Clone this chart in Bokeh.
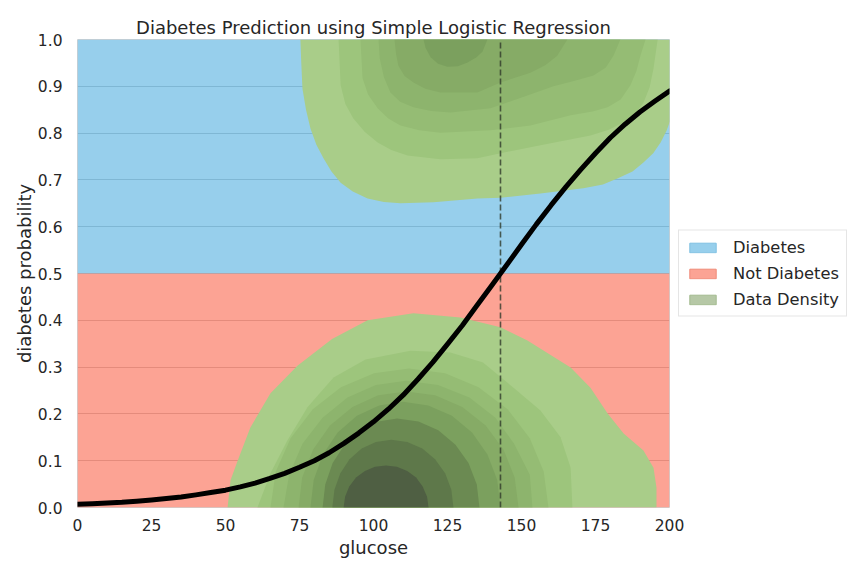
from bokeh.plotting import figure
from bokeh.models import Range1d, Legend, LegendItem, FixedTicker, CustomJSTickFormatter
from bokeh.embed import file_html
from bokeh.resources import INLINE

# logistic curve
glucose = [0, 5, 10, 15, 20, 25, 30, 35, 40, 45, 50, 55, 60, 65, 70, 75, 80, 85, 90, 95, 100,
           105, 110, 115, 120, 125, 130, 135, 140, 145, 150, 155, 160, 165, 170, 175, 180,
           185, 190, 195, 200]
prob = [0.007, 0.008, 0.0095, 0.011, 0.0134, 0.016, 0.019, 0.0225, 0.027, 0.032, 0.037,
        0.044, 0.052, 0.062, 0.073, 0.086, 0.100, 0.117, 0.137, 0.159, 0.183,
        0.210, 0.240, 0.274, 0.310, 0.349, 0.389, 0.432, 0.475, 0.518, 0.562,
        0.605, 0.646, 0.685, 0.722, 0.757, 0.790, 0.819, 0.845, 0.868, 0.890]

cutoff_glucose = 142.9

# class bands (diabetes above threshold, not diabetes below)
band_left = [0, 0]
band_right = [200, 200]
band_bottom = [0.5, 0.0]
band_top = [1.0, 0.5]

# density contours, upper cluster (diabetes), outer -> inner
kde_upper_x = [
    [75.3, 75.6, 76.0, 77.2, 78.7, 80.7, 83.1, 85.8, 88.9, 93.0, 98.0, 103.5, 109.1, 120.3, 135.1, 142.9,
     156.4, 170.9, 177.5, 182.4, 187.5, 191.2, 194.5, 197.0, 199.0, 200.5, 204, 204],
    [88.2, 88.9, 90.5, 93.2, 97.0, 101.4, 106.0, 111.5, 122.6, 135.1, 142.9, 156.4, 173.3, 179.5,
     184.5, 188.5, 191.2, 193.3, 194.6, 196.0],
    [95.6, 96.3, 98.2, 101.4, 105.0, 109.1, 115.5, 122.6, 139.5, 153.0, 166.6, 174.0, 179.1, 183.5,
     186.8, 188.8, 190.2, 191.9],
    [101.7, 102.1, 103.5, 105.7, 109.0, 113.5, 119.5, 126.0, 139.5, 151.0, 160.8, 168.0, 174.3,
     178.5, 181.1, 183.4],
    [107.1, 107.6, 108.4, 110.5, 113.5, 117.5, 122.6, 135.1, 142.9, 153.0, 158.0, 162.0, 165.5],
    [116.9, 117.6, 119.3, 121.8, 124.9, 128.5, 131.8, 134.8, 136.8, 138.5],
]
kde_upper_y = [
    [1.0, 0.95, 0.895, 0.850, 0.810, 0.775, 0.746, 0.718, 0.694, 0.675, 0.660, 0.653, 0.650, 0.652,
     0.660, 0.662, 0.671, 0.682, 0.690, 0.703, 0.718, 0.737, 0.757, 0.780, 0.805, 0.831, 0.85, 1.0],
    [1.0, 0.902, 0.862, 0.831, 0.803, 0.780, 0.764, 0.752, 0.744, 0.746, 0.757, 0.774, 0.795, 0.807,
     0.823, 0.842, 0.865, 0.898, 0.938, 1.0],
    [1.0, 0.917, 0.882, 0.853, 0.831, 0.816, 0.806, 0.801, 0.806, 0.816, 0.838, 0.846, 0.855, 0.872,
     0.902, 0.932, 0.966, 1.0],
    [1.0, 0.960, 0.920, 0.887, 0.867, 0.855, 0.847, 0.844, 0.853, 0.878, 0.900, 0.912, 0.923, 0.940,
     0.966, 1.0],
    [1.0, 0.970, 0.944, 0.922, 0.908, 0.895, 0.887, 0.887, 0.908, 0.929, 0.945, 0.965, 1.0],
    [1.0, 0.982, 0.962, 0.948, 0.942, 0.943, 0.951, 0.962, 0.974, 1.0],
]

# density contours, lower cluster (not diabetes), outer -> inner
kde_lower_x = [
    [50.7, 51.7, 54.1, 58.4, 65.2, 74.3, 86.0, 98.0, 113.5, 129.4, 142.9, 152.0, 166.6, 173.3, 179.1, 184.5, 191.2, 194.6, 195.6, 195.6],
    [60.8, 65.2, 70.9, 77.7, 86.5, 97.3, 112.5, 126.0, 137.0, 147.3, 156.4, 163.2, 166.6, 167.2],
    [65.2, 67.0, 72.0, 79.5, 89.0, 100.2, 112.0, 124.2, 135.5, 145.3, 152.8, 157.5, 159.1],
    [69.6, 71.5, 76.0, 82.8, 91.2, 100.8, 111.0, 121.8, 132.4, 141.2, 147.5, 152.8, 153.7],
    [74.7, 75.9, 79.6, 85.3, 92.9, 101.6, 111.0, 120.8, 130.0, 137.9, 143.9, 147.7, 149.0],
    [78.7, 79.8, 82.9, 87.9, 94.4, 101.9, 110.0, 118.5, 126.5, 133.3, 138.5, 141.8, 142.9],
    [82.8, 83.7, 86.2, 90.2, 95.4, 101.5, 108.0, 115.2, 121.9, 127.7, 132.1, 134.9, 135.8],
    [86.1, 86.8, 88.8, 91.9, 96.0, 100.8, 106.0, 111.4, 116.5, 120.8, 124.2, 126.3, 127.0],
    [89.9, 90.4, 91.8, 94.1, 97.1, 100.5, 104.2, 107.9, 111.4, 114.4, 116.6, 118.1, 118.6],
]
kde_lower_y = [
    [0.0, 0.058, 0.100, 0.171, 0.244, 0.303, 0.360, 0.400, 0.415, 0.406, 0.385, 0.357, 0.299, 0.256, 0.201, 0.158, 0.122, 0.085, 0.043, 0.0],
    [0.0, 0.073, 0.143, 0.214, 0.278, 0.316, 0.335, 0.331, 0.310, 0.256, 0.207, 0.150, 0.085, 0.0],
    [0.0, 0.077, 0.148, 0.210, 0.257, 0.287, 0.297, 0.287, 0.257, 0.210, 0.148, 0.077, 0.0],
    [0.0, 0.070, 0.136, 0.192, 0.235, 0.262, 0.271, 0.262, 0.235, 0.192, 0.136, 0.070, 0.0],
    [0.0, 0.064, 0.124, 0.175, 0.215, 0.240, 0.248, 0.240, 0.215, 0.175, 0.124, 0.064, 0.0],
    [0.0, 0.059, 0.113, 0.160, 0.196, 0.218, 0.226, 0.218, 0.196, 0.160, 0.113, 0.059, 0.0],
    [0.0, 0.049, 0.095, 0.134, 0.165, 0.184, 0.190, 0.184, 0.165, 0.134, 0.095, 0.049, 0.0],
    [0.0, 0.038, 0.073, 0.103, 0.126, 0.140, 0.145, 0.140, 0.126, 0.103, 0.073, 0.038, 0.0],
    [0.0, 0.023, 0.045, 0.064, 0.078, 0.087, 0.090, 0.087, 0.078, 0.064, 0.045, 0.023, 0.0],
]

x_ticks = [0, 25, 50, 75, 100, 125, 150, 175, 200]
y_ticks = [0.0, 0.1, 0.2, 0.3, 0.4, 0.5, 0.6, 0.7, 0.8, 0.9, 1.0]

level_colors = ["#a9cd89", "#9dc57c", "#95bc74", "#8db46d", "#86ab66",
                "#7ba05e", "#6b8a52", "#5e784a", "#4f5f43"]

FONT = "DejaVu Sans"
TXT = "#262626"

p = figure(frame_width=592, frame_height=468, x_range=Range1d(0, 200), y_range=Range1d(0, 1),
           title="Diabetes Prediction using Simple Logistic Regression",
           x_axis_label="glucose", y_axis_label="diabetes probability",
           output_backend="svg", toolbar_location=None,
           min_border_left=77, min_border_top=39, min_border_bottom=55, min_border_right=4)

p.title.align = "center"
p.title.text_font = FONT
p.title.text_font_size = "18px"
p.title.text_font_style = "normal"
p.title.text_color = TXT
p.title.standoff = 4

p.quad(left=band_left, right=band_right, bottom=band_bottom, top=band_top,
       fill_color=["#52afdf", "#fa664d"], fill_alpha=0.6, line_color=None)

p.patches(xs=kde_upper_x, ys=kde_upper_y, fill_color=level_colors[:len(kde_upper_x)], line_color=None)
p.patches(xs=kde_lower_x, ys=kde_lower_y, fill_color=level_colors[:len(kde_lower_x)], line_color=None)

p.line(x=[cutoff_glucose, cutoff_glucose], y=[0, 1], line_color="#2f3a2a", line_alpha=0.8,
       line_width=1.6, line_dash="6 3")

p.line(x=glucose, y=prob, line_color="black", line_width=5, line_join="round", line_cap="round")

# legend-only renderers (hidden on the plot)
r_d = p.quad(left=band_left[:1], right=band_right[:1], bottom=band_bottom[:1], top=band_top[:1],
             fill_color="#97cfec", line_color="#7fc0e2", visible=False)
r_n = p.quad(left=band_left[1:], right=band_right[1:], bottom=band_bottom[1:], top=band_top[1:],
             fill_color="#fba394", line_color="#ef8a78", visible=False)
r_k = p.patches(xs=kde_lower_x[:1], ys=kde_lower_y[:1], fill_color="#b6c8a6", line_color="#a2ba8e",
                visible=False)

legend = Legend(items=[LegendItem(label="Diabetes", renderers=[r_d]),
                       LegendItem(label="Not Diabetes", renderers=[r_n]),
                       LegendItem(label="Data Density", renderers=[r_k])],
                location="center_left")
legend.label_text_font = FONT
legend.label_text_font_size = "16.3px"
legend.label_text_color = TXT
legend.glyph_width = 33
legend.glyph_height = 12
legend.label_standoff = 14
legend.spacing = 7
legend.padding = 7
legend.margin = 9
legend.border_line_color = "#cccccc"
legend.background_fill_color = "white"
legend.background_fill_alpha = 1.0
legend.inactive_fill_alpha = 0.0
p.add_layout(legend, "right")

p.xaxis.ticker = FixedTicker(ticks=x_ticks)
p.yaxis.ticker = FixedTicker(ticks=y_ticks)
p.yaxis.formatter = CustomJSTickFormatter(code="return tick.toFixed(1);")

for ax in (p.xaxis, p.yaxis):
    ax.axis_line_color = None
    ax.major_tick_line_color = None
    ax.minor_tick_line_color = None
    ax.major_label_text_font = FONT
    ax.major_label_text_font_size = "15.5px"
    ax.major_label_text_color = TXT
    ax.axis_label_text_font = FONT
    ax.axis_label_text_font_size = "18px"
    ax.axis_label_text_font_style = "normal"
    ax.axis_label_text_color = TXT
p.xaxis.major_label_standoff = 5
p.yaxis.major_label_standoff = 9
p.xaxis.axis_label_standoff = 3
p.yaxis.axis_label_standoff = 0

p.xgrid.visible = False
p.ygrid.grid_line_color = "#c4c4c4"
p.ygrid.grid_line_width = 1
p.outline_line_color = "#d4d4d4"
p.background_fill_color = "white"
p.border_fill_color = "white"

open("out.html", "w").write(file_html(p, INLINE))
